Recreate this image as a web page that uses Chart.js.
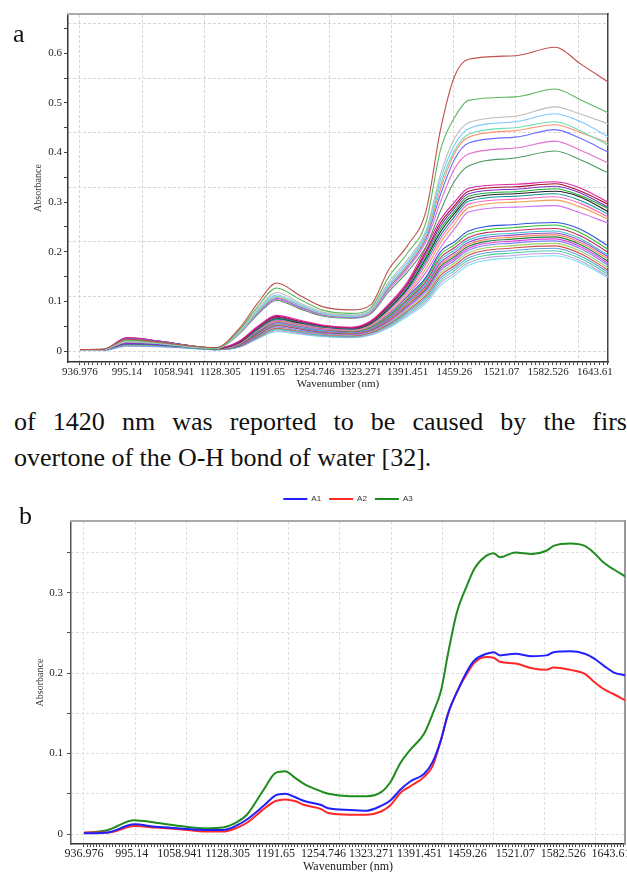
<!DOCTYPE html>
<html>
<head>
<meta charset="utf-8">
<title>NIR spectra</title>
<script src="https://cdn.jsdelivr.net/npm/chart.js@4.4.1/dist/chart.umd.min.js"></script>
<style>
  html, body { margin: 0; padding: 0; background: #fff; }
  body { width: 627px; height: 872px; position: relative; overflow: hidden; }
  canvas { position: absolute; left: 0; }
  #chartA { top: 0; }
  #chartB { top: 480px; }
  .txt { position: absolute; font-family: 'Liberation Serif', serif; font-size: 26px; line-height: 26px; color: #111; white-space: nowrap; }
  #line1 { left: 14px; top: 409px; width: 613px; text-align: justify; text-align-last: justify; }
  #line2 { left: 14px; top: 445px; }
</style>
</head>
<body>
<canvas id="chartA" width="627" height="395"></canvas>
<canvas id="chartB" width="627" height="398"></canvas>
<div class="txt" style="left:13px; top:21px;">a</div>
<div class="txt" id="line1">of 1420 nm was reported to be caused by the firs</div>
<div class="txt" id="line2">overtone of the O-H bond of water [32].</div>
<div class="txt" style="left:19px; top:503px;">b</div>
<script>
// x tick labels (wavelengths), one per label step on the index axis
const xLabels = ['936.976', '995.14', '1058.941', '1128.305', '1191.65', '1254.746',
  '1323.271', '1391.451', '1459.26', '1521.07', '1582.526', '1643.61'];
const yLabelsA = ['0', '0.1', '0.2', '0.3', '0.4', '0.5', '0.6'];
const yLabelsB = ['0', '0.1', '0.2', '0.3'];

// sample positions (in label steps) for chart a
const posA = [0, 0.5, 1.0, 1.7, 2.4, 2.9, 3.4, 3.8, 4.2, 4.7, 5.2, 5.8, 6.2, 6.6, 7.0, 7.4, 7.7, 8.0, 8.3, 9.3, 10.15, 10.7, 11.28];

// chart a - upper group (9 spectra)
const specT1 = [0.003, 0.004, 0.024, 0.018, 0.010, 0.007, 0.045, 0.097, 0.137, 0.112, 0.089, 0.083, 0.092, 0.165, 0.213, 0.285, 0.445, 0.553, 0.588, 0.595, 0.612, 0.578, 0.542];
const specT2 = [0.003, 0.004, 0.022, 0.017, 0.010, 0.006, 0.042, 0.090, 0.127, 0.104, 0.082, 0.076, 0.086, 0.150, 0.198, 0.262, 0.405, 0.470, 0.505, 0.512, 0.528, 0.506, 0.480];
const specT3 = [0.002, 0.003, 0.020, 0.016, 0.009, 0.006, 0.040, 0.085, 0.118, 0.097, 0.078, 0.073, 0.083, 0.140, 0.185, 0.245, 0.355, 0.428, 0.460, 0.473, 0.492, 0.477, 0.458];
const specT4 = [0.002, 0.003, 0.021, 0.016, 0.009, 0.006, 0.038, 0.082, 0.113, 0.094, 0.076, 0.071, 0.081, 0.135, 0.180, 0.240, 0.345, 0.415, 0.448, 0.462, 0.478, 0.462, 0.432];
const specT5 = [0.002, 0.003, 0.019, 0.015, 0.008, 0.005, 0.037, 0.080, 0.110, 0.092, 0.075, 0.070, 0.080, 0.132, 0.176, 0.236, 0.335, 0.404, 0.437, 0.450, 0.462, 0.443, 0.415];
const specT6 = [0.002, 0.003, 0.020, 0.016, 0.009, 0.006, 0.036, 0.079, 0.108, 0.091, 0.074, 0.069, 0.079, 0.130, 0.173, 0.232, 0.326, 0.398, 0.431, 0.444, 0.456, 0.440, 0.420];
const specT7 = [0.003, 0.003, 0.025, 0.019, 0.010, 0.006, 0.036, 0.078, 0.106, 0.089, 0.073, 0.068, 0.078, 0.128, 0.170, 0.228, 0.315, 0.386, 0.419, 0.431, 0.446, 0.428, 0.401];
const specT8 = [0.002, 0.003, 0.018, 0.015, 0.008, 0.005, 0.035, 0.076, 0.104, 0.087, 0.072, 0.067, 0.076, 0.124, 0.166, 0.222, 0.300, 0.367, 0.397, 0.409, 0.423, 0.404, 0.379];
const specT9 = [0.002, 0.003, 0.023, 0.018, 0.010, 0.006, 0.034, 0.074, 0.102, 0.085, 0.070, 0.066, 0.074, 0.120, 0.160, 0.212, 0.282, 0.342, 0.373, 0.389, 0.403, 0.385, 0.359];

// chart a - middle cluster
const specM1 = [0.002, 0.003, 0.027, 0.020, 0.010, 0.006, 0.020, 0.050, 0.072, 0.062, 0.052, 0.048, 0.060, 0.095, 0.140, 0.210, 0.265, 0.300, 0.328, 0.336, 0.341, 0.328, 0.300];
const specM2 = [0.002, 0.003, 0.024, 0.019, 0.010, 0.005, 0.019, 0.049, 0.070, 0.060, 0.051, 0.047, 0.058, 0.092, 0.136, 0.203, 0.258, 0.293, 0.322, 0.331, 0.337, 0.322, 0.296];
const specM3 = [0.002, 0.003, 0.015, 0.013, 0.008, 0.005, 0.018, 0.047, 0.068, 0.059, 0.050, 0.046, 0.057, 0.090, 0.133, 0.198, 0.252, 0.288, 0.317, 0.326, 0.332, 0.318, 0.290];
const specM4 = [0.002, 0.003, 0.020, 0.016, 0.009, 0.005, 0.018, 0.046, 0.067, 0.058, 0.049, 0.046, 0.056, 0.088, 0.130, 0.192, 0.246, 0.282, 0.312, 0.321, 0.327, 0.313, 0.287];
const specM5 = [0.002, 0.003, 0.026, 0.020, 0.010, 0.006, 0.017, 0.045, 0.066, 0.057, 0.049, 0.045, 0.055, 0.086, 0.127, 0.188, 0.240, 0.277, 0.307, 0.317, 0.322, 0.310, 0.281];
const specM6 = [0.002, 0.003, 0.014, 0.012, 0.007, 0.004, 0.017, 0.044, 0.064, 0.056, 0.048, 0.044, 0.054, 0.084, 0.124, 0.182, 0.233, 0.271, 0.302, 0.312, 0.317, 0.303, 0.276];
const specM7 = [0.002, 0.003, 0.018, 0.015, 0.008, 0.005, 0.016, 0.043, 0.063, 0.055, 0.047, 0.043, 0.053, 0.082, 0.120, 0.176, 0.226, 0.264, 0.296, 0.306, 0.311, 0.297, 0.270];
const specM8 = [0.002, 0.003, 0.013, 0.012, 0.007, 0.004, 0.015, 0.042, 0.061, 0.053, 0.046, 0.042, 0.051, 0.079, 0.116, 0.168, 0.218, 0.256, 0.289, 0.300, 0.304, 0.290, 0.266];
const specM9 = [0.002, 0.003, 0.016, 0.013, 0.008, 0.005, 0.015, 0.041, 0.059, 0.051, 0.044, 0.041, 0.050, 0.076, 0.112, 0.160, 0.208, 0.246, 0.280, 0.290, 0.293, 0.278, 0.258];

// chart a - lower cluster
const specL1 = [0.002, 0.003, 0.026, 0.019, 0.010, 0.005, 0.015, 0.040, 0.062, 0.053, 0.045, 0.042, 0.050, 0.075, 0.110, 0.150, 0.200, 0.220, 0.242, 0.255, 0.259, 0.245, 0.212];
const specL2 = [0.002, 0.003, 0.018, 0.015, 0.008, 0.004, 0.014, 0.038, 0.060, 0.051, 0.044, 0.040, 0.048, 0.072, 0.106, 0.146, 0.194, 0.214, 0.236, 0.249, 0.254, 0.238, 0.205];
const specL3 = [0.002, 0.003, 0.022, 0.017, 0.009, 0.005, 0.013, 0.037, 0.058, 0.050, 0.043, 0.039, 0.047, 0.070, 0.103, 0.141, 0.188, 0.208, 0.229, 0.243, 0.247, 0.232, 0.199];
const specL4 = [0.002, 0.002, 0.012, 0.011, 0.007, 0.004, 0.013, 0.036, 0.056, 0.048, 0.041, 0.038, 0.045, 0.068, 0.100, 0.137, 0.183, 0.203, 0.224, 0.238, 0.242, 0.226, 0.193];
const specL5 = [0.002, 0.003, 0.020, 0.016, 0.009, 0.005, 0.012, 0.035, 0.055, 0.047, 0.040, 0.037, 0.044, 0.066, 0.098, 0.133, 0.178, 0.198, 0.219, 0.234, 0.238, 0.222, 0.190];
const specL6 = [0.002, 0.002, 0.013, 0.011, 0.007, 0.004, 0.012, 0.034, 0.053, 0.046, 0.039, 0.036, 0.043, 0.064, 0.095, 0.130, 0.174, 0.194, 0.215, 0.230, 0.234, 0.218, 0.186];
const specL7 = [0.002, 0.003, 0.017, 0.014, 0.008, 0.004, 0.011, 0.033, 0.052, 0.045, 0.038, 0.035, 0.042, 0.063, 0.093, 0.127, 0.170, 0.190, 0.211, 0.226, 0.230, 0.214, 0.181];
const specL8 = [0.002, 0.003, 0.024, 0.018, 0.009, 0.005, 0.011, 0.032, 0.051, 0.044, 0.037, 0.034, 0.041, 0.061, 0.090, 0.124, 0.166, 0.186, 0.207, 0.222, 0.226, 0.210, 0.177];
const specL9 = [0.002, 0.002, 0.012, 0.010, 0.006, 0.003, 0.010, 0.031, 0.049, 0.042, 0.036, 0.033, 0.040, 0.059, 0.088, 0.121, 0.162, 0.182, 0.203, 0.218, 0.222, 0.206, 0.173];
const specL10 = [0.002, 0.002, 0.014, 0.012, 0.007, 0.004, 0.010, 0.030, 0.048, 0.041, 0.035, 0.032, 0.039, 0.057, 0.085, 0.117, 0.157, 0.177, 0.198, 0.213, 0.217, 0.201, 0.168];
const specL11 = [0.002, 0.003, 0.019, 0.015, 0.008, 0.004, 0.010, 0.029, 0.046, 0.040, 0.034, 0.031, 0.037, 0.055, 0.082, 0.113, 0.152, 0.172, 0.193, 0.208, 0.212, 0.196, 0.163];
const specL12 = [0.002, 0.002, 0.011, 0.010, 0.006, 0.003, 0.009, 0.028, 0.045, 0.038, 0.032, 0.030, 0.036, 0.053, 0.079, 0.109, 0.147, 0.167, 0.188, 0.203, 0.207, 0.191, 0.159];
const specL13 = [0.002, 0.002, 0.013, 0.011, 0.006, 0.003, 0.009, 0.027, 0.043, 0.037, 0.031, 0.029, 0.035, 0.051, 0.076, 0.105, 0.142, 0.162, 0.183, 0.198, 0.202, 0.186, 0.155];
const specL14 = [0.002, 0.002, 0.010, 0.009, 0.006, 0.003, 0.008, 0.026, 0.041, 0.035, 0.030, 0.028, 0.033, 0.049, 0.073, 0.101, 0.137, 0.157, 0.178, 0.193, 0.197, 0.181, 0.151];
const specL15 = [0.002, 0.002, 0.010, 0.009, 0.005, 0.003, 0.008, 0.025, 0.039, 0.034, 0.029, 0.027, 0.032, 0.047, 0.070, 0.097, 0.132, 0.152, 0.173, 0.188, 0.192, 0.177, 0.148];

const spectraA = [specT1, specT2, specT3, specT4, specT5, specT6, specT7, specT8, specT9,
  specM1, specM2, specM3, specM4, specM5, specM6, specM7, specM8, specM9,
  specL1, specL2, specL3, specL4, specL5, specL6, specL7, specL8, specL9, specL10,
  specL11, specL12, specL13, specL14, specL15];
const colorsA = ['#c0504d', '#5cb85c', '#bbbbbb', '#7fc8ff', '#66e0b0', '#ff9070', '#6a6aff', '#e070d0', '#4a9a60',
  '#e020a0', '#a01030', '#8030c0', '#20b040', '#202020', '#1090a0', '#ff60c0', '#f0a050', '#d070f0',
  '#3050e0', '#30c030', '#c03060', '#40c0d0', '#9050d0', '#ff8060', '#208040', '#e040e0', '#8080ff', '#a0d060',
  '#d05050', '#60a0e0', '#50d0a0', '#c0a0e0', '#80e0f0'];

// chart b - averaged spectra A1, A2, A3
const seriesNamesB = ['A1', 'A2', 'A3'];
const posB = [0, 0.5, 1.05, 1.5, 2.0, 2.55, 2.9, 3.2, 3.4, 3.75, 4.0, 4.2, 4.4, 4.6, 4.95, 5.1, 5.55, 5.9, 6.2, 6.4,
  6.6, 6.8, 7.1, 7.28, 7.45, 7.6, 7.78, 8.0, 8.15, 8.4, 8.55, 8.68, 9.0, 9.35, 9.65, 9.8, 10.15, 10.45, 10.65, 10.85, 11.05, 11.3];
const valuesA1 = [0.001, 0.002, 0.012, 0.009, 0.007, 0.005, 0.005, 0.011, 0.018, 0.035, 0.048, 0.050, 0.046, 0.041, 0.036, 0.032, 0.030, 0.029, 0.035, 0.042,
  0.055, 0.065, 0.075, 0.090, 0.117, 0.150, 0.176, 0.203, 0.216, 0.224, 0.226, 0.222, 0.224, 0.221, 0.222, 0.226, 0.227, 0.224, 0.218, 0.209, 0.201, 0.197];
const valuesA2 = [0.002, 0.002, 0.010, 0.008, 0.006, 0.003, 0.003, 0.008, 0.014, 0.031, 0.041, 0.043, 0.041, 0.036, 0.031, 0.026, 0.024, 0.024, 0.028, 0.036,
  0.051, 0.059, 0.071, 0.085, 0.117, 0.150, 0.176, 0.200, 0.213, 0.220, 0.219, 0.214, 0.212, 0.206, 0.204, 0.207, 0.204, 0.199, 0.189, 0.180, 0.174, 0.166];
const valuesA3 = [0.001, 0.005, 0.017, 0.014, 0.010, 0.007, 0.008, 0.015, 0.024, 0.055, 0.076, 0.078, 0.070, 0.062, 0.053, 0.050, 0.047, 0.047, 0.052, 0.065,
  0.088, 0.104, 0.125, 0.150, 0.178, 0.225, 0.275, 0.310, 0.330, 0.346, 0.349, 0.344, 0.350, 0.348, 0.352, 0.358, 0.361, 0.358, 0.349, 0.337, 0.329, 0.320];
const colorsB = ['#2020ff', '#ff2828', '#1e8c1e'];

Chart.defaults.font.family = "'Liberation Serif', 'Times New Roman', serif";
Chart.defaults.color = '#222';

function toPoints(pos, vals) {
  return vals.map((v, i) => ({ x: pos[i], y: v }));
}
function fixWidth(w) { return axis => { axis.width = w; }; }
function fixHeight(h) { return axis => { axis.height = h; }; }
function useTicks(list) { return axis => { axis.ticks = list.map(v => ({ value: v })); }; }
function range(n, step) { const out = []; for (let i = 0; i <= n; i++) out.push(+(i * step).toFixed(6)); return out; }
function xLabel(v) {
  const k = Math.round(v);
  return Math.abs(v - k) < 1e-6 && xLabels[k] !== undefined ? xLabels[k] : '';
}
function yLabel(list) {
  return v => {
    const k = Math.round(v / 0.05);
    return k % 2 === 0 && list[k / 2] !== undefined ? list[k / 2] : '';
  };
}

// ---------- chart a ----------
new Chart(document.getElementById('chartA'), {
  type: 'line',
  data: {
    datasets: spectraA.map((vals, i) => ({
      data: toPoints(posA, vals),
      borderColor: colorsA[i],
      borderWidth: 1.1,
      pointRadius: 0,
      cubicInterpolationMode: 'monotone',
      fill: false
    }))
  },
  options: {
    responsive: false,
    animation: false,
    layout: { padding: { left: 28, right: 19, top: 14, bottom: 0 }, autoPadding: false },
    plugins: { legend: { display: false }, tooltip: { enabled: false } },
    scales: {
      x: {
        type: 'linear', position: 'bottom', min: -0.256, max: 11.28,
        afterBuildTicks: useTicks(range(124, 1 / 11)),
        afterFit: fixHeight(33),
        ticks: { autoSkip: false, maxRotation: 0, minRotation: 0, padding: 1, font: { size: 11 }, color: '#222', callback: xLabel },
        grid: { drawOnChartArea: false, drawTicks: true, tickLength: 3, tickColor: '#444' },
        border: { display: true, color: '#333', width: 1.5 },
        title: { display: true, text: 'Wavenumber (nm)', font: { size: 11 }, color: '#222' }
      },
      y: {
        type: 'linear', position: 'left', min: -0.022, max: 0.679,
        afterBuildTicks: useTicks(range(13, 0.05)),
        afterFit: fixWidth(40),
        ticks: { autoSkip: false, padding: 2, font: { size: 11 }, color: '#222', callback: yLabel(yLabelsA) },
        grid: { drawOnChartArea: false, drawTicks: true, tickLength: 4, tickColor: '#444' },
        border: { display: true, color: '#333', width: 1.5 },
        title: { display: true, text: 'Absorbance', font: { size: 10 }, color: '#333' }
      },
      xGrid: {
        type: 'linear', position: 'top', min: -0.256, max: 11.28,
        afterBuildTicks: useTicks([0, 1.33, 2.66, 3.99, 5.32, 6.65, 7.98, 9.31, 10.64]),
        afterFit: fixHeight(0),
        ticks: { display: false, autoSkip: false },
        grid: { drawTicks: false, color: '#d6d6d6', lineWidth: 1 },
        border: { display: true, color: '#aaaaaa', width: 2, dash: [3, 2] }
      },
      yGrid: {
        type: 'linear', position: 'right', min: -0.022, max: 0.679,
        afterBuildTicks: useTicks([0, 0.11, 0.22, 0.33, 0.44, 0.55, 0.66]),
        afterFit: fixWidth(0),
        ticks: { display: false, autoSkip: false },
        grid: { drawTicks: false, color: '#d6d6d6', lineWidth: 1 },
        border: { display: true, color: '#444', width: 1.5, dash: [3, 2] }
      }
    }
  }
});

// ---------- chart b ----------
new Chart(document.getElementById('chartB'), {
  type: 'line',
  data: {
    datasets: [valuesA1, valuesA2, valuesA3].map((vals, i) => ({
      label: seriesNamesB[i],
      data: toPoints(posB, vals),
      borderColor: colorsB[i],
      backgroundColor: colorsB[i],
      borderWidth: 2,
      pointRadius: 0,
      cubicInterpolationMode: 'monotone',
      fill: false
    }))
  },
  options: {
    responsive: false,
    animation: false,
    layout: { padding: { left: 30, right: 2, top: 7, bottom: 0 }, autoPadding: false },
    plugins: {
      tooltip: { enabled: false },
      legend: {
        display: true, position: 'top', fullSize: false,
        labels: {
          usePointStyle: true, pointStyle: 'line', pointStyleWidth: 24, padding: 8,
          color: '#333', font: { family: "'Liberation Sans', Arial, sans-serif", size: 8 }
        }
      }
    },
    scales: {
      x: {
        type: 'linear', position: 'bottom', min: -0.27, max: 11.29,
        afterBuildTicks: useTicks(range(169, 1 / 15)),
        afterFit: fixHeight(34),
        ticks: { autoSkip: false, maxRotation: 0, minRotation: 0, padding: 0, font: { size: 12 }, color: '#222', callback: xLabel },
        grid: { drawOnChartArea: false, drawTicks: true, tickLength: 3, tickColor: '#444' },
        border: { display: true, color: '#333', width: 1.5 },
        title: { display: true, text: 'Wavenumber (nm)', font: { size: 12 }, color: '#222' }
      },
      y: {
        type: 'linear', position: 'left', min: -0.0124, max: 0.389,
        afterBuildTicks: useTicks(range(7, 0.05)),
        afterFit: fixWidth(41),
        ticks: { autoSkip: false, padding: 4, font: { size: 11 }, color: '#222', callback: yLabel(yLabelsB) },
        grid: { drawOnChartArea: false, drawTicks: true, tickLength: 4, tickColor: '#555' },
        border: { display: true, color: '#555', width: 1.5 },
        title: { display: true, text: 'Absorbance', font: { size: 10 }, color: '#333' }
      },
      xGrid: {
        type: 'linear', position: 'top', min: -0.27, max: 11.29,
        afterBuildTicks: useTicks([0, 1.068, 2.136, 3.204, 4.272, 5.34, 6.408, 7.476, 8.544, 9.612, 10.68]),
        afterFit: fixHeight(8),
        ticks: { display: false, autoSkip: false },
        grid: { drawTicks: false, color: '#e0e0e0', lineWidth: 1 },
        border: { display: true, color: '#aaaaaa', width: 2, dash: [3, 2] }
      },
      yGrid: {
        type: 'linear', position: 'right', min: -0.0124, max: 0.389,
        afterBuildTicks: useTicks(range(7, 0.05)),
        afterFit: fixWidth(0),
        ticks: { display: false, autoSkip: false },
        grid: { drawTicks: false, color: '#e0e0e0', lineWidth: 1 },
        border: { display: true, color: '#999999', width: 2, dash: [3, 2] }
      }
    }
  }
});
</script>
</body>
</html>
